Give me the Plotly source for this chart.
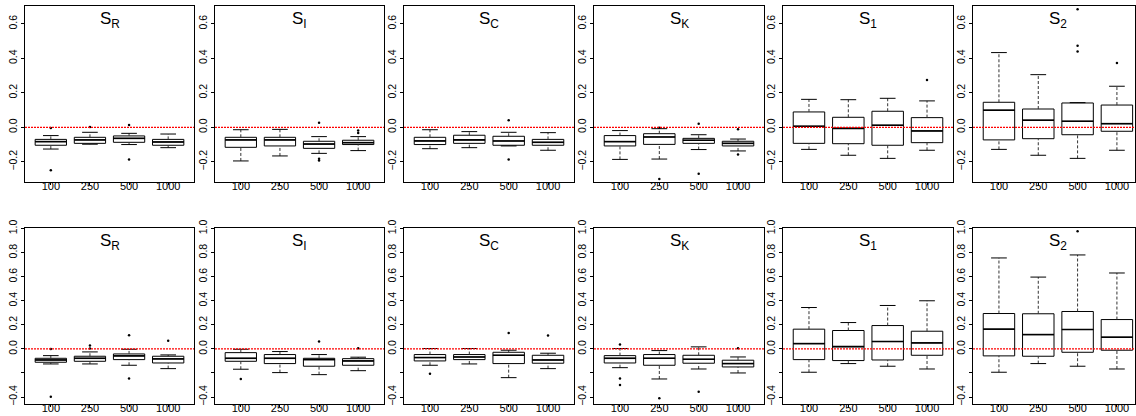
import plotly.graph_objects as go
from plotly.subplots import make_subplots

# ---------------- data ----------------
sizes = ["100", "250", "500", "1000"]
positions = [1, 2, 3, 4]
panel_titles = ["S<sub>R</sub>", "S<sub>I</sub>", "S<sub>C</sub>",
                "S<sub>K</sub>", "S<sub>1</sub>", "S<sub>2</sub>"]

# top row (per panel: 4 sample sizes)
top_lo = [[-0.126, -0.098, -0.100, -0.118],
          [-0.195, -0.166, -0.151, -0.135],
          [-0.124, -0.118, -0.108, -0.133],
          [-0.186, -0.184, -0.129, -0.137],
          [-0.128, -0.162, -0.180, -0.133],
          [-0.128, -0.162, -0.180, -0.133]]
top_q1 = [[-0.104, -0.093, -0.087, -0.104],
          [-0.116, -0.108, -0.122, -0.100],
          [-0.100, -0.093, -0.104, -0.104],
          [-0.108, -0.099, -0.093, -0.108],
          [-0.093, -0.095, -0.104, -0.089],
          [-0.073, -0.066, -0.043, -0.023]]
top_med = [[-0.083, -0.073, -0.064, -0.085],
           [-0.073, -0.073, -0.097, -0.089],
           [-0.079, -0.073, -0.079, -0.087],
           [-0.083, -0.056, -0.075, -0.093],
           [0.006, -0.006, 0.012, -0.021],
           [0.099, 0.041, 0.035, 0.021]]
top_q3 = [[-0.070, -0.058, -0.050, -0.070],
          [-0.058, -0.058, -0.081, -0.075],
          [-0.058, -0.046, -0.052, -0.070],
          [-0.048, -0.037, -0.064, -0.081],
          [0.089, 0.058, 0.093, 0.056],
          [0.145, 0.106, 0.141, 0.129]]
top_hi = [[-0.048, -0.029, -0.035, -0.039],
          [-0.014, -0.012, -0.054, -0.054],
          [-0.014, -0.025, -0.029, -0.031],
          [-0.019, -0.008, -0.043, -0.068],
          [0.162, 0.160, 0.168, 0.153],
          [0.433, 0.305, 0.143, 0.238]]
top_out = [[[-0.004, -0.249], [0.002], [0.014, -0.186], []],
           [[], [], [0.027, -0.182, -0.193], [-0.019, -0.033]],
           [[], [], [0.041, -0.186], []],
           [[], [-0.002, -0.300], [0.021, -0.269], [-0.012, -0.158]],
           [[], [], [], [0.274]],
           [[], [], [0.473, 0.439, 0.684], [0.373]]]

# bottom row
bot_lo = [[-0.125, -0.125, -0.136, -0.164],
          [-0.169, -0.197, -0.214, -0.181],
          [-0.136, -0.125, -0.239, -0.164],
          [-0.156, -0.250, -0.167, -0.200],
          [-0.194, -0.122, -0.144, -0.167],
          [-0.194, -0.122, -0.144, -0.167]]
bot_q1 = [[-0.111, -0.103, -0.089, -0.117],
          [-0.103, -0.122, -0.144, -0.136],
          [-0.100, -0.089, -0.122, -0.119],
          [-0.117, -0.136, -0.119, -0.150],
          [-0.089, -0.097, -0.092, -0.053],
          [-0.058, -0.061, -0.028, -0.011]]
bot_med = [[-0.092, -0.078, -0.058, -0.083],
           [-0.078, -0.078, -0.089, -0.100],
           [-0.072, -0.067, -0.053, -0.092],
           [-0.078, -0.078, -0.086, -0.122],
           [0.044, 0.019, 0.061, 0.050],
           [0.164, 0.119, 0.161, 0.097]]
bot_q3 = [[-0.078, -0.061, -0.042, -0.061],
          [-0.031, -0.047, -0.078, -0.081],
          [-0.047, -0.047, -0.028, -0.053],
          [-0.056, -0.047, -0.053, -0.094],
          [0.164, 0.153, 0.194, 0.147],
          [0.294, 0.292, 0.311, 0.244]]
bot_hi = [[-0.056, -0.025, -0.003, -0.050],
          [-0.003, -0.022, -0.047, -0.069],
          [0.003, 0.003, -0.011, -0.036],
          [0.003, -0.014, 0.017, -0.067],
          [0.344, 0.219, 0.361, 0.400],
          [0.756, 0.597, 0.781, 0.631]]
bot_out = [[[0.000, -0.397], [0.028, 0.003], [0.114, -0.247], [0.067]],
           [[-0.250], [], [0.061], [0.006]],
           [[-0.206], [], [0.133], [0.111]],
           [[0.036, -0.247, -0.300], [-0.411], [-0.356], [0.006]],
           [[], [], [], []],
           [[], [], [0.978], []]]

top_yticks = [-0.2, 0.0, 0.2, 0.4, 0.6]
top_yticktext = ["\u22120.2", "0.0", "0.2", "0.4", "0.6"]
bot_yticks = [-0.4, 0.0, 0.2, 0.4, 0.6, 0.8, 1.0]
bot_yticktext = ["\u22120.4", "0.0", "0.2", "0.4", "0.6", "0.8", "1.0"]
bot_minor_ticks = [-0.2]

# ---------------- layout geometry ----------------
W, H = 1136, 416
left_px = [25, 215, 404, 594, 783, 973]
right_px = [194, 384, 574, 764, 953, 1135]
row_top_px = [6, 228]
row_bot_px = [182, 404]
yranges = [[-0.317, 0.703], [-0.458, 1.005]]
FONT = "Liberation Sans, Arial, Helvetica, sans-serif"

fig = make_subplots(rows=2, cols=6)

rows = [
    (top_lo, top_q1, top_med, top_q3, top_hi, top_out, top_yticks, top_yticktext, []),
    (bot_lo, bot_q1, bot_med, bot_q3, bot_hi, bot_out, bot_yticks, bot_yticktext, bot_minor_ticks),
]

for r, (lo, q1, med, q3, hi, outs, yt, ytt, ymin) in enumerate(rows):
    for c in range(6):
        idx = r * 6 + c + 1
        wx, wy, cx, cy, mx, my, ox, oy = [], [], [], [], [], [], [], []
        for j, p in enumerate(positions):
            wx += [p, p, None, p, p, None]
            wy += [q3[c][j], hi[c][j], None, lo[c][j], q1[c][j], None]
            cx += [p - 0.2, p + 0.2, None, p - 0.2, p + 0.2, None]
            cy += [hi[c][j], hi[c][j], None, lo[c][j], lo[c][j], None]
            mx += [p - 0.4, p + 0.4, None]
            my += [med[c][j], med[c][j], None]
            for v in outs[c][j]:
                ox.append(p)
                oy.append(v)
        fig.add_trace(go.Scatter(x=wx, y=wy, mode="lines",
                                 line=dict(color="#333", width=1, dash="3px,2px"),
                                 hoverinfo="skip", showlegend=False),
                      row=r + 1, col=c + 1)
        fig.add_trace(go.Box(x=positions, q1=q1[c], median=med[c], q3=q3[c],
                             lowerfence=q1[c], upperfence=q3[c],
                             width=0.8, whiskerwidth=0, boxpoints=False,
                             fillcolor="white",
                             line=dict(color="black", width=1),
                             hoverinfo="skip", showlegend=False),
                      row=r + 1, col=c + 1)
        fig.add_trace(go.Scatter(x=mx, y=my, mode="lines",
                                 line=dict(color="black", width=1.6),
                                 hoverinfo="skip", showlegend=False),
                      row=r + 1, col=c + 1)
        fig.add_trace(go.Scatter(x=cx, y=cy, mode="lines",
                                 line=dict(color="black", width=1),
                                 hoverinfo="skip", showlegend=False),
                      row=r + 1, col=c + 1)
        fig.add_trace(go.Scatter(x=ox, y=oy, mode="markers",
                                 marker=dict(color="black", size=2.5),
                                 hoverinfo="skip", showlegend=False),
                      row=r + 1, col=c + 1)

        xa = "xaxis" if idx == 1 else f"xaxis{idx}"
        ya = "yaxis" if idx == 1 else f"yaxis{idx}"
        xr = [0.34, 4.66] if c < 5 else [0.34, 4.46]
        fig.layout[xa].update(
            domain=[left_px[c] / W, right_px[c] / W], automargin=False,
            range=xr, tickvals=positions, ticktext=sizes,
            ticks="outside", ticklen=2, tickcolor="black",
            ticklabelstandoff=-8,
            showline=True, mirror=True, linecolor="black", linewidth=1,
            showgrid=False, zeroline=False,
            tickfont=dict(family=FONT, size=11, color="black"))
        fig.layout[ya].update(
            domain=[1 - row_bot_px[r] / H, 1 - row_top_px[r] / H], automargin=False,
            range=yranges[r], tickvals=yt, ticktext=ytt, tickangle=-90,
            ticks="outside", ticklen=3, tickcolor="black",
            showline=True, mirror=True, linecolor="black", linewidth=1,
            showgrid=False, zeroline=False,
            tickfont=dict(family=FONT, size=10.5, color="black"))
        if ymin:
            fig.layout[ya].update(minor=dict(tickvals=ymin, ticks="outside",
                                             ticklen=3, tickcolor="black",
                                             showgrid=False))

        xref = "x" if idx == 1 else f"x{idx}"
        yref = "y" if idx == 1 else f"y{idx}"
        fig.add_shape(type="line", xref=f"{xref} domain", yref=yref,
                      x0=0, x1=1, y0=0, y1=0, layer="above",
                      line=dict(color="#ff0000", width=1.2, dash="2px,1px"))
        fig.add_annotation(text=panel_titles[c], xref=xref,
                           yref=f"{yref} domain", x=2.5, y=1, yanchor="top",
                           yshift=-1, showarrow=False,
                           font=dict(family=FONT, size=17, color="black"))

fig.update_layout(template="none", width=W, height=H,
                  margin=dict(l=0, r=0, t=0, b=0, autoexpand=False),
                  paper_bgcolor="white", plot_bgcolor="white",
                  showlegend=False, boxmode="overlay")

fig.write_html("out.html", config={"displayModeBar": False},
               post_script="document.body.style.margin='0';document.body.style.padding='0';")
